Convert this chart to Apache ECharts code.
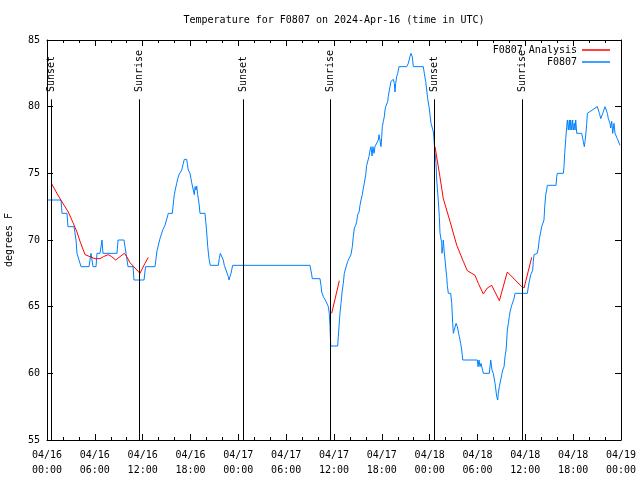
<!DOCTYPE html>
<html>
<head>
<meta charset="utf-8">
<script src="https://cdn.jsdelivr.net/npm/echarts@6/dist/echarts.min.js"></script>
<style>html,body{margin:0;padding:0;background:#fff}#c{width:640px;height:480px}</style>
</head>
<body>
<div id="c"></div>
<script>
// hours since 2024-04-16 00:00 UTC
const blueHours = [0.13,1.76,1.88,2.51,2.63,3.39,3.64,3.76,4.01,4.27,5.27,5.52,5.77,6.15,6.27,6.65,6.90,7.02,8.78,8.91,9.66,9.91,10.16,10.79,10.91,12.17,12.36,13.55,13.80,14.17,14.55,14.80,15.05,15.22,15.72,15.84,15.97,16.14,16.27,16.40,16.56,16.68,16.90,17.02,17.10,17.22,17.52,17.60,17.72,17.94,18.06,18.15,18.35,18.48,18.57,18.69,18.78,18.90,19.07,19.19,19.82,19.91,20.03,20.16,20.32,20.48,21.49,21.61,21.74,21.99,22.11,22.24,22.45,22.74,22.83,22.99,23.08,23.29,32.99,33.20,33.28,34.24,34.37,34.46,34.66,35.00,35.29,35.41,35.50,35.59,36.46,36.54,36.63,36.75,36.88,37.04,37.17,37.29,37.47,37.59,37.72,37.88,38.13,38.30,38.42,38.55,38.72,38.85,38.97,39.14,39.26,39.39,39.55,39.68,39.80,39.98,40.10,40.23,40.39,40.52,40.64,40.77,40.89,41.02,41.14,41.36,41.56,41.65,41.77,41.90,41.98,42.06,42.19,42.31,42.40,42.49,42.61,42.74,42.81,42.90,43.03,43.15,43.24,43.44,43.57,43.65,43.74,43.86,43.99,44.15,45.12,45.32,45.53,45.66,45.82,45.95,47.20,47.33,47.50,47.63,47.75,47.92,48.04,48.17,48.33,48.46,48.55,48.67,48.80,48.88,49.08,49.21,49.30,49.51,49.54,49.66,49.71,49.80,49.93,50.05,50.14,50.21,50.34,50.64,50.77,50.89,50.97,51.18,51.31,51.47,51.72,51.89,52.02,52.15,53.98,54.07,54.19,54.32,54.44,54.73,55.48,55.66,55.82,55.98,56.20,56.41,56.54,56.61,56.74,56.91,57.04,57.16,57.33,57.45,57.58,57.67,57.74,57.87,57.99,58.08,58.29,58.42,58.58,58.71,60.25,60.38,60.50,60.68,60.93,61.00,61.09,61.22,61.50,61.63,61.76,61.93,62.05,62.26,62.34,62.43,62.56,62.68,62.76,63.85,63.94,64.01,64.77,64.85,64.94,65.07,65.19,65.27,65.39,65.52,65.61,65.69,65.82,65.94,66.02,66.15,66.23,66.32,66.45,67.07,67.20,67.27,67.40,67.49,67.61,67.70,67.78,69.03,69.16,69.29,69.46,69.59,69.71,70.00,70.12,70.29,70.41,70.50,70.62,70.71,70.84,70.96,71.12,71.25,71.54,71.88];
const blueTemps = [73,73,72,72,71,71,70,69,69,68,68,69,68,68,69,69,70,69,69,70,70,69,68,68,67,67,68,68,69.2,70.1,70.8,71.1,71.1,72,72,72.7,73.4,73.9,74.25,74.6,74.9,75.0,75.25,75.4,75.75,76.05,76.05,75.75,75.25,75.0,74.6,74.3,73.75,73.4,74.0,73.75,74.05,73.4,72.75,72.0,72.0,71.4,70.6,69.5,68.6,68.1,68.1,68.6,69.0,69.0,68.5,68.1,67.75,67.25,67.0,67.0,67.5,68.1,68.1,67.4,67.1,67.1,66.6,66.1,65.75,65.4,65.0,64.5,63.5,62.05,62.05,62.75,63.5,64.5,65.25,66.25,66.75,67.5,67.9,68.05,68.4,68.6,68.9,69.5,70.25,70.9,71.1,71.4,71.9,72.1,72.6,73.0,73.4,73.9,74.25,74.9,75.6,75.75,76.25,76.75,77.0,76.3,77.0,76.5,77.0,77.1,77.5,77.9,77.5,77.0,77.7,78.5,78.9,79.25,79.75,80.0,80.1,80.4,80.75,81.1,81.5,81.9,82.05,82.05,81.75,81.1,81.75,82.25,82.5,83.0,83.0,83.25,83.75,84.0,83.75,83.0,83.0,82.5,81.9,81.25,80.6,80.0,79.4,78.75,78.4,78.1,77.5,76.5,75.75,74.5,73.0,71.75,70.5,69.75,69.0,69.5,70.0,69.25,68.5,67.75,67.25,66.6,66.0,66.0,65.25,63.75,63.0,63.0,63.75,63.5,62.75,62.25,61.75,61.0,61.0,60.5,61.0,60.5,60.75,60.0,60.0,61.0,60.25,60.0,59.25,58.25,58.0,58.5,59.0,59.5,59.9,60.25,60.5,61.25,61.75,62.5,63.25,63.75,64.25,64.6,65.1,65.1,65.6,66.0,66.0,66.5,66.9,67.4,67.75,68.4,68.9,69.0,69.0,69.4,70.1,70.6,71.0,71.0,71.5,72.5,73.4,73.75,74.1,74.1,74.75,75.0,75.0,75.5,76.5,77.6,78.5,79.0,78.25,79.0,78.25,79.0,78.25,79.0,78.25,78.75,78.25,79.0,78.0,78.0,78.0,77.4,77.0,77.4,78.1,78.75,79.5,80.0,80.0,79.5,79.1,79.1,79.5,80.0,80.0,79.5,79.1,79.0,78.75,78.4,78.9,78.0,78.75,78.0,77.6,77.1,77.1];
const redHours = [0.59,1.63,2.67,3.26,3.76,4.14,4.77,5.39,6.02,6.65,7.07,7.69,8.11,8.62,9.16,9.70,10.0,10.41,11.04,11.66,12.29,12.71,null,35.71,36.67,null,48.67,49.30,49.71,50.55,51.40,52.22,52.72,53.69,54.10,54.73,55.23,55.78,56.74,57.74,59.55,59.84,60.80];
const redTemps = [74.2,73.1,72.1,71.3,70.6,69.9,68.9,68.75,68.6,68.6,68.75,68.9,68.75,68.5,68.75,69.0,68.75,68.3,67.9,67.5,68.25,68.7,null,64.5,66.95,null,77.0,74.7,73.1,71.4,69.6,68.4,67.7,67.35,66.75,65.95,66.4,66.6,65.45,67.6,66.5,66.4,68.7];
const eventHours = [0.59,11.58,24.63,35.5,48.58,59.62];
const eventNames = ['Sunset','Sunrise','Sunset','Sunrise','Sunset','Sunrise'];
const startDay = 16;

const FONT = 'DejaVu Sans Mono';
const blueData = blueHours.map((h,i)=>[h, blueTemps[i]]);
const redData = redHours.map((h,i)=> h===null ? '-' : [h, redTemps[i]]);
const eventLabelTop = 81.1, eventLineTop = 80.55, yMin = 55, yMax = 85;

function xLabel(v){
  const d = startDay + Math.floor(v/24);
  const hh = Math.round(v % 24);
  return '04/' + String(d).padStart(2,'0') + '\n' + String(hh).padStart(2,'0') + ':00';
}
const axisCommon = {
  type:'value', min:0, max:72, interval:6,
  axisLine:{show:true, onZero:false, lineStyle:{color:'#000', width:1}},
  axisTick:{show:true, inside:true, length:6, lineStyle:{color:'#000'}},
  minorTick:{show:true, splitNumber:3, length:3, lineStyle:{color:'#000'}},
  splitLine:{show:false}, minorSplitLine:{show:false}
};
const yCommon = {
  type:'value', min:yMin, max:yMax, interval:5,
  axisLine:{show:true, onZero:false, lineStyle:{color:'#000', width:1}},
  axisTick:{show:true, inside:true, length:6, lineStyle:{color:'#000'}},
  splitLine:{show:false}
};
const chart = echarts.init(document.getElementById('c'), null, {renderer:'canvas'});
chart.setOption({
  animation:false,
  backgroundColor:'#fff',
  textStyle:{fontFamily:FONT},
  title:{
    text:'Temperature for F0807 on 2024-Apr-16 (time in UTC)',
    left:334, top:14, textAlign:'center', padding:0,
    textStyle:{fontFamily:FONT, fontSize:10, fontWeight:'normal', color:'#000', lineHeight:12}
  },
  legend:{
    data:['F0807 Analysis','F0807'],
    orient:'vertical', right:30, top:44, align:'right',
    icon:'rect', itemWidth:28, itemHeight:1.5, itemGap:0, padding:0,
    textStyle:{fontFamily:FONT, fontSize:10, color:'#000', lineHeight:12}
  },
  grid:{left:47, right:19, top:40, bottom:40, containLabel:false, outerBoundsMode:'none'},
  xAxis:[
    Object.assign({}, axisCommon, {position:'bottom',
      axisLabel:{show:true, margin:8, formatter:xLabel, color:'#000', fontFamily:FONT, fontSize:10, lineHeight:15, showMinLabel:true, showMaxLabel:true}}),
    Object.assign({}, axisCommon, {position:'top', axisLabel:{show:false}})
  ],
  yAxis:[
    Object.assign({}, yCommon, {position:'left', name:'degrees F', nameLocation:'middle', nameGap:33, nameRotate:90,
      nameTextStyle:{fontFamily:FONT, fontSize:10, color:'#000'},
      axisLabel:{show:true, margin:7, color:'#000', fontFamily:FONT, fontSize:10}}),
    Object.assign({}, yCommon, {position:'right', axisLabel:{show:false}})
  ],
  series:[
    {
      name:'F0807 Analysis', type:'line', data:redData, xAxisIndex:0, yAxisIndex:0,
      symbol:'none', connectNulls:false, lineStyle:{color:'#ff0000', width:1}, itemStyle:{color:'#ff0000'}, z:3
    },
    {
      name:'F0807', type:'line', data:blueData, xAxisIndex:0, yAxisIndex:0,
      symbol:'none', lineStyle:{color:'#0080ff', width:1}, itemStyle:{color:'#0080ff'}, z:2
    },
    {
      name:'events', type:'scatter', xAxisIndex:0, yAxisIndex:0, symbolSize:0, z:4,
      data: eventHours.map((h,i)=>({value:[h, eventLabelTop], name:eventNames[i]})),
      label:{show:true, position:'inside', rotate:90, align:'left', verticalAlign:'middle',
        formatter:'{b}', color:'#000', opacity:1, fontFamily:FONT, fontSize:10},
      markLine:{
        silent:true, symbol:['none','none'], label:{show:false},
        lineStyle:{color:'#000', width:1, type:'solid'},
        data: eventHours.map(h=>[{coord:[h, yMin]},{coord:[h, eventLineTop]}])
      }
    }
  ]
});
</script>
</body>
</html>
